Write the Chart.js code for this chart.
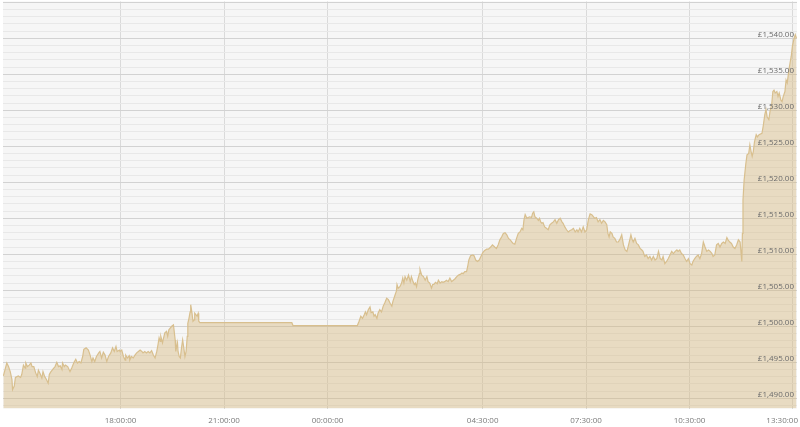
<!DOCTYPE html>
<html>
<head>
<meta charset="utf-8">
<script src="https://cdn.jsdelivr.net/npm/chart.js@4.4.1/dist/chart.umd.min.js"></script>
<style>
html,body{margin:0;padding:0;background:#fff;}
#wrap{width:800px;height:427px;}
</style>
</head>
<body>
<div id="wrap"><canvas id="c" width="800" height="427"></canvas></div>
<script>
// ---- data ----
const times = [
"14:36","14:42","14:45","14:48","14:51","14:52","14:55","14:57","15:02","15:06","15:08","15:11","15:14","15:15","15:18","15:21","15:24","15:26","15:29","15:32",
"15:35","15:37","15:40","15:43","15:45","15:48","15:51","15:54","15:56","15:58","16:02","16:06","16:09","16:12","16:15","16:18","16:19","16:22","16:24","16:28",
"16:32","16:35","16:39","16:42","16:45","16:48","16:51","16:54","16:56","17:00","17:04","17:07","17:10","17:12","17:15","17:18","17:22","17:24","17:27","17:30",
"17:33","17:36","17:39","17:43","17:46","17:49","17:52","17:54","17:58",
"17:59","18:02","18:05","18:08","18:09","18:12","18:15","18:16","18:19","18:22","18:25","18:28","18:31","18:34","18:37","18:39","18:42","18:45","18:48","18:51",
"18:54","18:57","19:00","19:03","19:05","19:07","19:09","19:10","19:13","19:14","19:17","19:20","19:22","19:24","19:26","19:29","19:32","19:33","19:35","19:36",
"19:39","19:40","19:42","19:44","19:46","19:48","19:50","19:52","19:54","19:56","19:57","19:59","20:01","20:02","20:04","20:06","20:08","20:09","20:11","20:13",
"20:15","20:16","20:18","22:58","23:00",
"00:52","00:55","00:58","01:01","01:04","01:06","01:08","01:11","01:14","01:16","01:19","01:21","01:23","01:26","01:28","01:31","01:34","01:37","01:40","01:43",
"01:46","01:49","01:52","01:54","01:57","02:00","02:01","02:03","02:06","02:09","02:11","02:13","02:15","02:18","02:21","02:24","02:26","02:28","02:31","02:33",
"02:35","02:37","02:40","02:41","02:44","02:47","02:50","02:53","02:55","02:58","03:01","03:03","03:05","03:08","03:11","03:13","03:16","03:19","03:21","03:24",
"03:27","03:30","03:33","03:36","03:39","03:42","03:45","03:48","03:51","03:54","03:56","03:59","04:02","04:04","04:06","04:09","04:13","04:15","04:18","04:21",
"04:24","04:27","04:30","04:33","04:37","04:40",
"04:44","04:47","04:51","04:54","04:57","05:00","05:03","05:06","05:09","05:12","05:15","05:18","05:21","05:23","05:26","05:29","05:32","05:35","05:38","05:40",
"05:42","05:44","05:47","05:49","05:52","05:55","05:57","05:59","06:01","06:04","06:07","06:09","06:11","06:13","06:15","06:18","06:21","06:24","06:27","06:30",
"06:33","06:36","06:39","06:42","06:45","06:48","06:50","06:53","06:56","06:59","07:02","07:05","07:08","07:11","07:14","07:16","07:19","07:22","07:25","07:28",
"07:31","07:34","07:37","07:40","07:42","07:45","07:48","07:51","07:54","07:57","08:00","08:03","08:06","08:08","08:10","08:12","08:15","08:17","08:20","08:23",
"08:26",
"08:29","08:32","08:35","08:38","08:41","08:43","08:46","08:48","08:50","08:52","08:55","08:58","09:01","09:04","09:07","09:09","09:12","09:15","09:18","09:21",
"09:24","09:27","09:30","09:33","09:36","09:39","09:42","09:44","09:47","09:50","09:53","09:56","09:59","10:02","10:05","10:08","10:10","10:13","10:16","10:19",
"10:22","10:25","10:28","10:31","10:34","10:36","10:39","10:42","10:45","10:48","10:51","10:54","10:57","11:00","11:03","11:06","11:09","11:11","11:14","11:17",
"11:20","11:23","11:26","11:29","11:32","11:35","11:37","11:40","11:43","11:46","11:49","11:52","11:55","11:58","12:01","12:02",
"12:03","12:05","12:08","12:10","12:13","12:15","12:17","12:19","12:21","12:23","12:26","12:28","12:31","12:36","12:38","12:41","12:43","12:45","12:48","12:50",
"12:53","12:55","12:57","12:59","13:02","13:04","13:06","13:09","13:11","13:13","13:16","13:18","13:20","13:23","13:25","13:27","13:29","13:32","13:34","13:36"
];
const prices = [
1493.1,1494.9,1494.4,1493.7,1492.6,1491.2,1491.7,1492.9,1493.1,1492.9,1493.3,1494.6,1494.2,1494.9,1494.4,1494.6,1494.9,1494.4,1494.4,1493.6,
1493.0,1493.9,1493.4,1492.8,1493.7,1493.0,1492.6,1492.1,1493.3,1493.6,1494.0,1494.4,1495.0,1494.4,1494.5,1494.0,1494.9,1494.4,1494.6,1494.4,
1493.7,1494.2,1495.0,1495.4,1494.9,1495.1,1494.9,1495.8,1496.8,1497.0,1496.7,1496.0,1495.1,1495.6,1495.1,1495.8,1496.3,1496.5,1495.6,1496.4,
1496.0,1495.1,1495.8,1496.3,1497.0,1496.5,1497.2,1496.5,1496.7,
1496.5,1496.7,1495.8,1495.3,1496.0,1495.6,1495.9,1495.3,1495.8,1495.6,1496.0,1496.3,1496.5,1496.7,1496.5,1496.3,1496.5,1496.3,1496.5,1496.3,
1496.6,1496.0,1495.6,1496.5,1497.4,1498.4,1497.9,1498.6,1497.7,1498.1,1499.1,1499.3,1498.6,1499.5,1499.7,1500.0,1500.2,1499.5,1498.1,1496.5,
1497.7,1496.5,1495.8,1495.6,1497.0,1498.1,1497.0,1495.8,1496.5,1498.6,1500.4,1501.1,1502.0,1503.0,1502.0,1500.7,1500.9,1501.8,1501.6,1501.4,
1501.8,1500.7,1500.5,1500.5,1500.1,
1500.1,1500.7,1501.4,1501.1,1501.6,1502.0,1501.6,1502.3,1502.7,1501.9,1502.0,1501.4,1501.6,1501.1,1501.8,1502.3,1502.0,1502.8,1503.3,1503.9,
1503.7,1503.2,1502.8,1503.5,1504.2,1504.9,1505.8,1505.3,1505.5,1506.0,1506.7,1506.0,1506.9,1506.4,1507.1,1506.2,1506.9,1506.4,1505.8,1506.0,
1505.5,1506.4,1507.3,1507.9,1507.1,1506.9,1506.4,1506.9,1506.2,1506.0,1505.3,1505.8,1505.8,1506.1,1505.9,1506.4,1506.0,1506.2,1506.1,1506.2,
1506.4,1506.2,1506.7,1506.2,1506.4,1506.6,1506.9,1507.1,1507.2,1507.4,1507.3,1507.6,1507.6,1508.3,1509.2,1509.8,1509.9,1509.8,1509.2,1509.0,
1509.2,1509.7,1510.2,1510.5,1510.7,1510.7,
1511.0,1511.3,1511.0,1510.8,1511.3,1512.0,1512.4,1512.9,1513.0,1512.7,1512.2,1512.0,1511.7,1511.5,1511.4,1512.2,1512.9,1513.1,1513.6,1513.4,
1514.8,1515.5,1515.0,1515.1,1515.2,1515.1,1515.7,1515.9,1515.2,1515.0,1514.7,1515.0,1514.5,1514.3,1514.4,1513.8,1513.6,1513.4,1514.1,1514.3,
1514.5,1514.8,1514.3,1514.8,1515.0,1514.5,1514.3,1513.8,1513.4,1513.1,1513.3,1513.4,1513.6,1513.1,1513.4,1513.1,1513.6,1513.1,1513.8,1513.1,
1513.4,1514.8,1515.6,1515.5,1515.3,1515.0,1515.1,1514.5,1514.8,1514.3,1514.7,1514.5,1514.1,1512.9,1512.4,1513.1,1512.9,1512.4,1512.2,1511.7,
1511.7,
1512.1,1512.7,1511.3,1510.6,1510.4,1511.0,1512.0,1512.7,1512.1,1511.7,1512.2,1511.5,1511.3,1510.8,1510.6,1510.4,1509.7,1509.9,1509.4,1509.7,
1509.2,1509.7,1509.2,1509.4,1510.4,1509.4,1509.2,1509.7,1508.7,1509.0,1509.4,1509.9,1510.4,1510.1,1510.4,1510.6,1510.4,1510.6,1510.1,1509.9,
1509.4,1509.0,1509.4,1508.7,1508.5,1509.0,1509.4,1509.7,1509.9,1509.4,1510.1,1511.7,1511.0,1510.4,1510.6,1510.4,1510.1,1509.7,1509.9,1511.3,
1511.5,1511.0,1511.5,1511.7,1511.5,1512.3,1512.0,1511.7,1511.5,1511.0,1510.8,1511.3,1512.0,1511.7,1509.0,1512.9,
1517.5,1520.3,1522.6,1523.8,1524.0,1525.2,1524.3,1523.6,1524.3,1525.6,1526.6,1526.3,1526.6,1526.8,1527.7,1529.4,1530.1,1529.1,1528.7,1529.8,
1530.8,1532.6,1532.8,1532.4,1532.6,1531.9,1532.4,1531.4,1531.2,1531.9,1532.6,1534.2,1533.8,1535.6,1536.6,1537.5,1538.9,1540.0,1540.5,1540.0
];
const xTickTimes = ["18:00","21:00","00:00","04:30","07:30","10:30","13:30"];
const yLabelValues = [1490,1495,1500,1505,1510,1515,1520,1525,1530,1535,1540];
const axisStart = "14:35";
const axisEnd = "13:37";
const yMin = 1488.58, yMax = 1545.1;

// ---- helpers ----
function toMin(t){
  const [h,m] = t.split(':').map(Number);
  let v = h*60+m;
  if (v < 14*60+35) v += 1440;
  return v;
}
function fmtGBP(v){
  const s = v.toFixed(2);
  const [i,d] = s.split('.');
  return '£' + i.replace(/\B(?=(\d{3})+(?!\d))/g, ',') + '.' + d;
}
const points = times.map((t,i)=>({x: toMin(t), y: prices[i]}));

const bgPlugin = {
  id:'bg',
  beforeDraw(chart){
    const {ctx, chartArea:a} = chart;
    ctx.save();
    ctx.fillStyle = '#ffffff';
    ctx.fillRect(0,0,chart.width,chart.height);
    ctx.fillStyle = '#f6f6f6';
    ctx.fillRect(a.left, a.top, a.right-a.left, a.bottom-a.top);
    ctx.restore();
  }
};
const labelPlugin = {
  id:'labels',
  afterDraw(chart){
    const {ctx, scales:{x,y}} = chart;
    ctx.save();
    ctx.font = '8px "Open Sans"';
    ctx.textBaseline = 'alphabetic';
    ctx.fillStyle = '#6a6a6a';
    ctx.textAlign = 'right';
    yLabelValues.forEach(v=>{
      ctx.fillText(fmtGBP(v), 794, y.getPixelForValue(v) - 1.5);
    });
    ctx.fillStyle = '#7a7a7a';
    ctx.textAlign = 'left';
    xTickTimes.forEach(t=>{
      const px = x.getPixelForValue(toMin(t));
      const label = t + ':00';
      const w = ctx.measureText(label).width;
      let left = px - w/2;
      if (left + w > 798) left = 798 - w;
      ctx.fillText(label, left, 422.5);
    });
    ctx.restore();
  }
};

function draw(){
  new Chart(document.getElementById('c'), {
    type:'line',
    data:{ datasets:[{
      data: points,
      borderColor:'#d8bf8e',
      borderWidth:1.2,
      backgroundColor:'rgba(212,180,117,0.40)',
      fill:'start',
      pointRadius:0,
      tension:0
    }]},
    options:{
      responsive:false,
      animation:false,
      events:[],
      layout:{padding:{left:3,right:3,top:1.5,bottom:18.5}},
      plugins:{legend:{display:false},tooltip:{enabled:false}},
      scales:{
        x:{
          type:'linear',
          min: toMin(axisStart)+0.4,
          max: toMin(axisEnd),
          afterBuildTicks(s){ s.ticks = xTickTimes.map(t=>({value: toMin(t)})); },
          ticks:{display:false},
          border:{display:false},
          grid:{color:'#dadada', lineWidth:1, drawTicks:false}
        },
        y:{
          position:'right',
          min:yMin, max:yMax,
          afterBuildTicks(s){
            const arr=[];
            for(let v=1489; v<=1545; v++) arr.push({value:v});
            s.ticks = arr;
          },
          ticks:{display:false},
          border:{display:false},
          grid:{
            drawTicks:false,
            lineWidth:1,
            color:(c)=> (c.tick && c.tick.value % 5 === 0) ? '#d2d2d2' : '#e8e8e8'
          }
        }
      }
    },
    plugins:[bgPlugin,labelPlugin]
  });
}
if (document.fonts && document.fonts.load) {
  document.fonts.load('8px "Open Sans"').then(draw, draw);
} else { draw(); }
</script>
</body>
</html>
